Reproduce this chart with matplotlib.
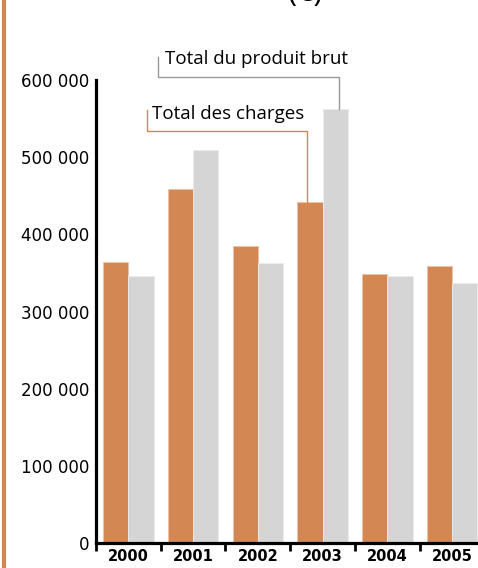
import matplotlib
matplotlib.use("Agg")
import matplotlib.pyplot as plt
import numpy as np

# values (euros)
years = ["2000", "2001", "2002", "2003", "2004", "2005"]
charges = [364000, 459000, 385000, 442000, 349000, 359000]
produit = [346000, 509000, 363000, 562000, 346000, 337000]
yticks = [0, 100000, 200000, 300000, 400000, 500000, 600000]
ytick_labels = ["0", "100 000", "200 000", "300 000", "400 000", "500 000", "600 000"]

orange = "#d38753"
grey = "#d5d5d5"

fig = plt.figure(figsize=(4.78, 5.68), dpi=100)
ax = fig.add_axes([96 / 478, 25 / 568, 1 - 96 / 478, 1 - 25 / 568])

x = np.arange(len(years))
w = 0.39
ax.bar(x + 0.5 - w / 2, charges, width=w, color=orange,
       edgecolor="#efc3a5", linewidth=0.6)
ax.bar(x + 0.5 + w / 2, produit, width=w, color=grey,
       edgecolor="#ececec", linewidth=0.6)

ax.set_xlim(0, 5.9)
ax.set_ylim(0, 703700)

# axes styling
for s in ["top", "right"]:
    ax.spines[s].set_visible(False)
ax.spines["left"].set_linewidth(2.3)
ax.spines["bottom"].set_linewidth(2.3)
ax.spines["left"].set_bounds(0, 600000)

ax.set_yticks(yticks)
ax.set_yticklabels(ytick_labels, fontsize=12, family="DejaVu Sans")
ax.tick_params(axis="y", length=0, pad=5)

ax.set_xticks(np.arange(0, 6))
ax.set_xticklabels([])
ax.tick_params(axis="x", which="major", length=6, width=2, direction="out")
ax.set_xticks(x + 0.5, minor=True)
ax.set_xticklabels(years, minor=True, fontsize=10.5, fontweight="bold")
ax.tick_params(axis="x", which="minor", length=0, pad=4.5)

# leader lines to the 2003 bars
ax.plot([0.96, 0.96, 3.76, 3.76], [630000, 604000, 604000, produit[3]],
        color="#999999", lw=1, clip_on=False)
ax.text(1.07, 627000, "Total du produit brut", fontsize=13.5,
        family="Open Sans", va="center", ha="left")
ax.plot([0.79, 0.79, 3.26, 3.26], [561000, 534000, 534000, charges[3]],
        color=orange, lw=1, clip_on=False)
ax.text(0.87, 556000, "Total des charges", fontsize=13.5,
        family="Open Sans", va="center", ha="left")

# orange rule at the left edge
fig.add_artist(plt.Line2D([4 / 478, 4 / 478], [0, 1], color=orange,
                          lw=3, transform=fig.transFigure))

# title, cut off by the top of the picture as in the original
fig.text(0.64, 1 - 1 / 568, "(€)", fontsize=22, ha="center", va="baseline",
         family="Open Sans")

fig.savefig("out.png", dpi=100)
